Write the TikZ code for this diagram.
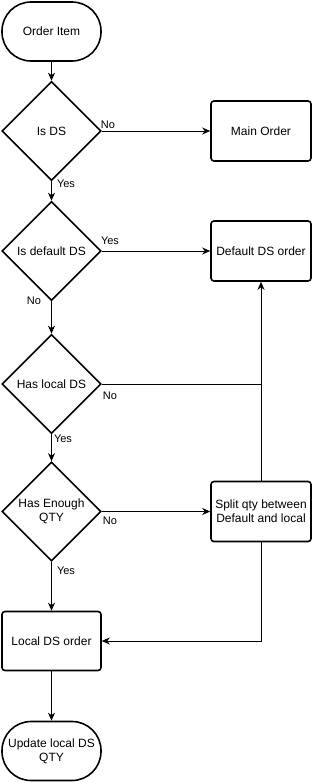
\documentclass[tikz,border=0pt]{standalone}
\usepackage{fontspec}
\setmainfont{Liberation Sans}
\usetikzlibrary{arrows.meta}
\usetikzlibrary{shapes.geometric}
\usetikzlibrary{calc}

\begin{document}
\begin{tikzpicture}[x=1pt, y=-1pt,
    terminal/.style={draw, line width=1.6pt, rounded corners=29pt, minimum width=99pt, minimum height=59pt, inner sep=0pt, align=center, font=\fontsize{12}{14}\selectfont},
    decision/.style={draw, diamond, aspect=1, line width=1.6pt, minimum width=99pt, minimum height=99pt, inner sep=0pt, align=center, font=\fontsize{12}{14}\selectfont},
    process/.style={draw, rectangle, line width=1.6pt, rounded corners=3pt, minimum width=99pt, minimum height=59pt, inner sep=0pt, align=center, font=\fontsize{12}{14}\selectfont},
    edge/.style={draw, line width=0.9pt, -{Stealth[length=8pt,width=7pt,inset=2.5pt]}},
    link/.style={draw, line width=0.9pt},
    lbl/.style={inner sep=0pt, font=\fontsize{11}{13}\selectfont}]
    \useasboundingbox (0,0) rectangle (312,782);
    % main column
    \node[terminal] (orderitem) at (51.5,31.5) {Order Item};
    \node[decision] (isds) at (51.5,131) {Is DS};
    \node[decision] (isdefault) at (51.5,251) {Is default DS};
    \node[decision] (haslocal) at (51.5,384) {Has local DS};
    \node[decision] (hasenough) at (51.5,511.5) {Has Enough\\QTY};
    \node[process] (localorder) at (51.5,641) {Local DS order};
    \node[terminal] (update) at (51.5,751) {Update local DS\\QTY};
    % right column
    \node[process, minimum width=100pt, minimum height=60pt] (mainorder) at (261,131) {Main Order};
    \node[process, minimum width=100pt, minimum height=60pt] (defaultorder) at (261,251) {Default DS order};
    \node[process, minimum width=100pt, minimum height=60pt] (split) at (261,511.5) {Split qty between\\Default and local};
    \coordinate (join) at (261,384);
    \coordinate (corner) at (261,641);
    % connectors
    \draw[edge] (orderitem) -- (isds);
    \draw[edge] (isds.east) -- (mainorder.west);
    \draw[edge] (isds.south) -- (isdefault.north);
    \draw[edge] (isdefault.east) -- (defaultorder.west);
    \draw[edge] (isdefault.south) -- (haslocal.north);
    \draw[link] (haslocal.east) -- (join);
    \draw[edge] (haslocal.south) -- (hasenough.north);
    \draw[edge] (hasenough.east) -- (split.west);
    \draw[edge] (split.north) -- (defaultorder.south);
    \draw[edge] (hasenough.south) -- (localorder.north);
    \draw[edge] (split.south) -- (corner) -- (localorder.east);
    \draw[edge] (localorder) -- (update);
    % labels
    \node[lbl] (isdsno) at (108,125) {No};
    \node[lbl] (isdsyes) at (66,184) {Yes};
    \node[lbl] (isdefaultyes) at (110,241) {Yes};
    \node[lbl] (isdefaultno) at (34,301) {No};
    \node[lbl] (haslocalno) at (110,396) {No};
    \node[lbl] (haslocalyes) at (63,439) {Yes};
    \node[lbl] (hasenoughno) at (110,521) {No};
    \node[lbl] (hasenoughyes) at (66,571) {Yes};
\end{tikzpicture}
\end{document}
